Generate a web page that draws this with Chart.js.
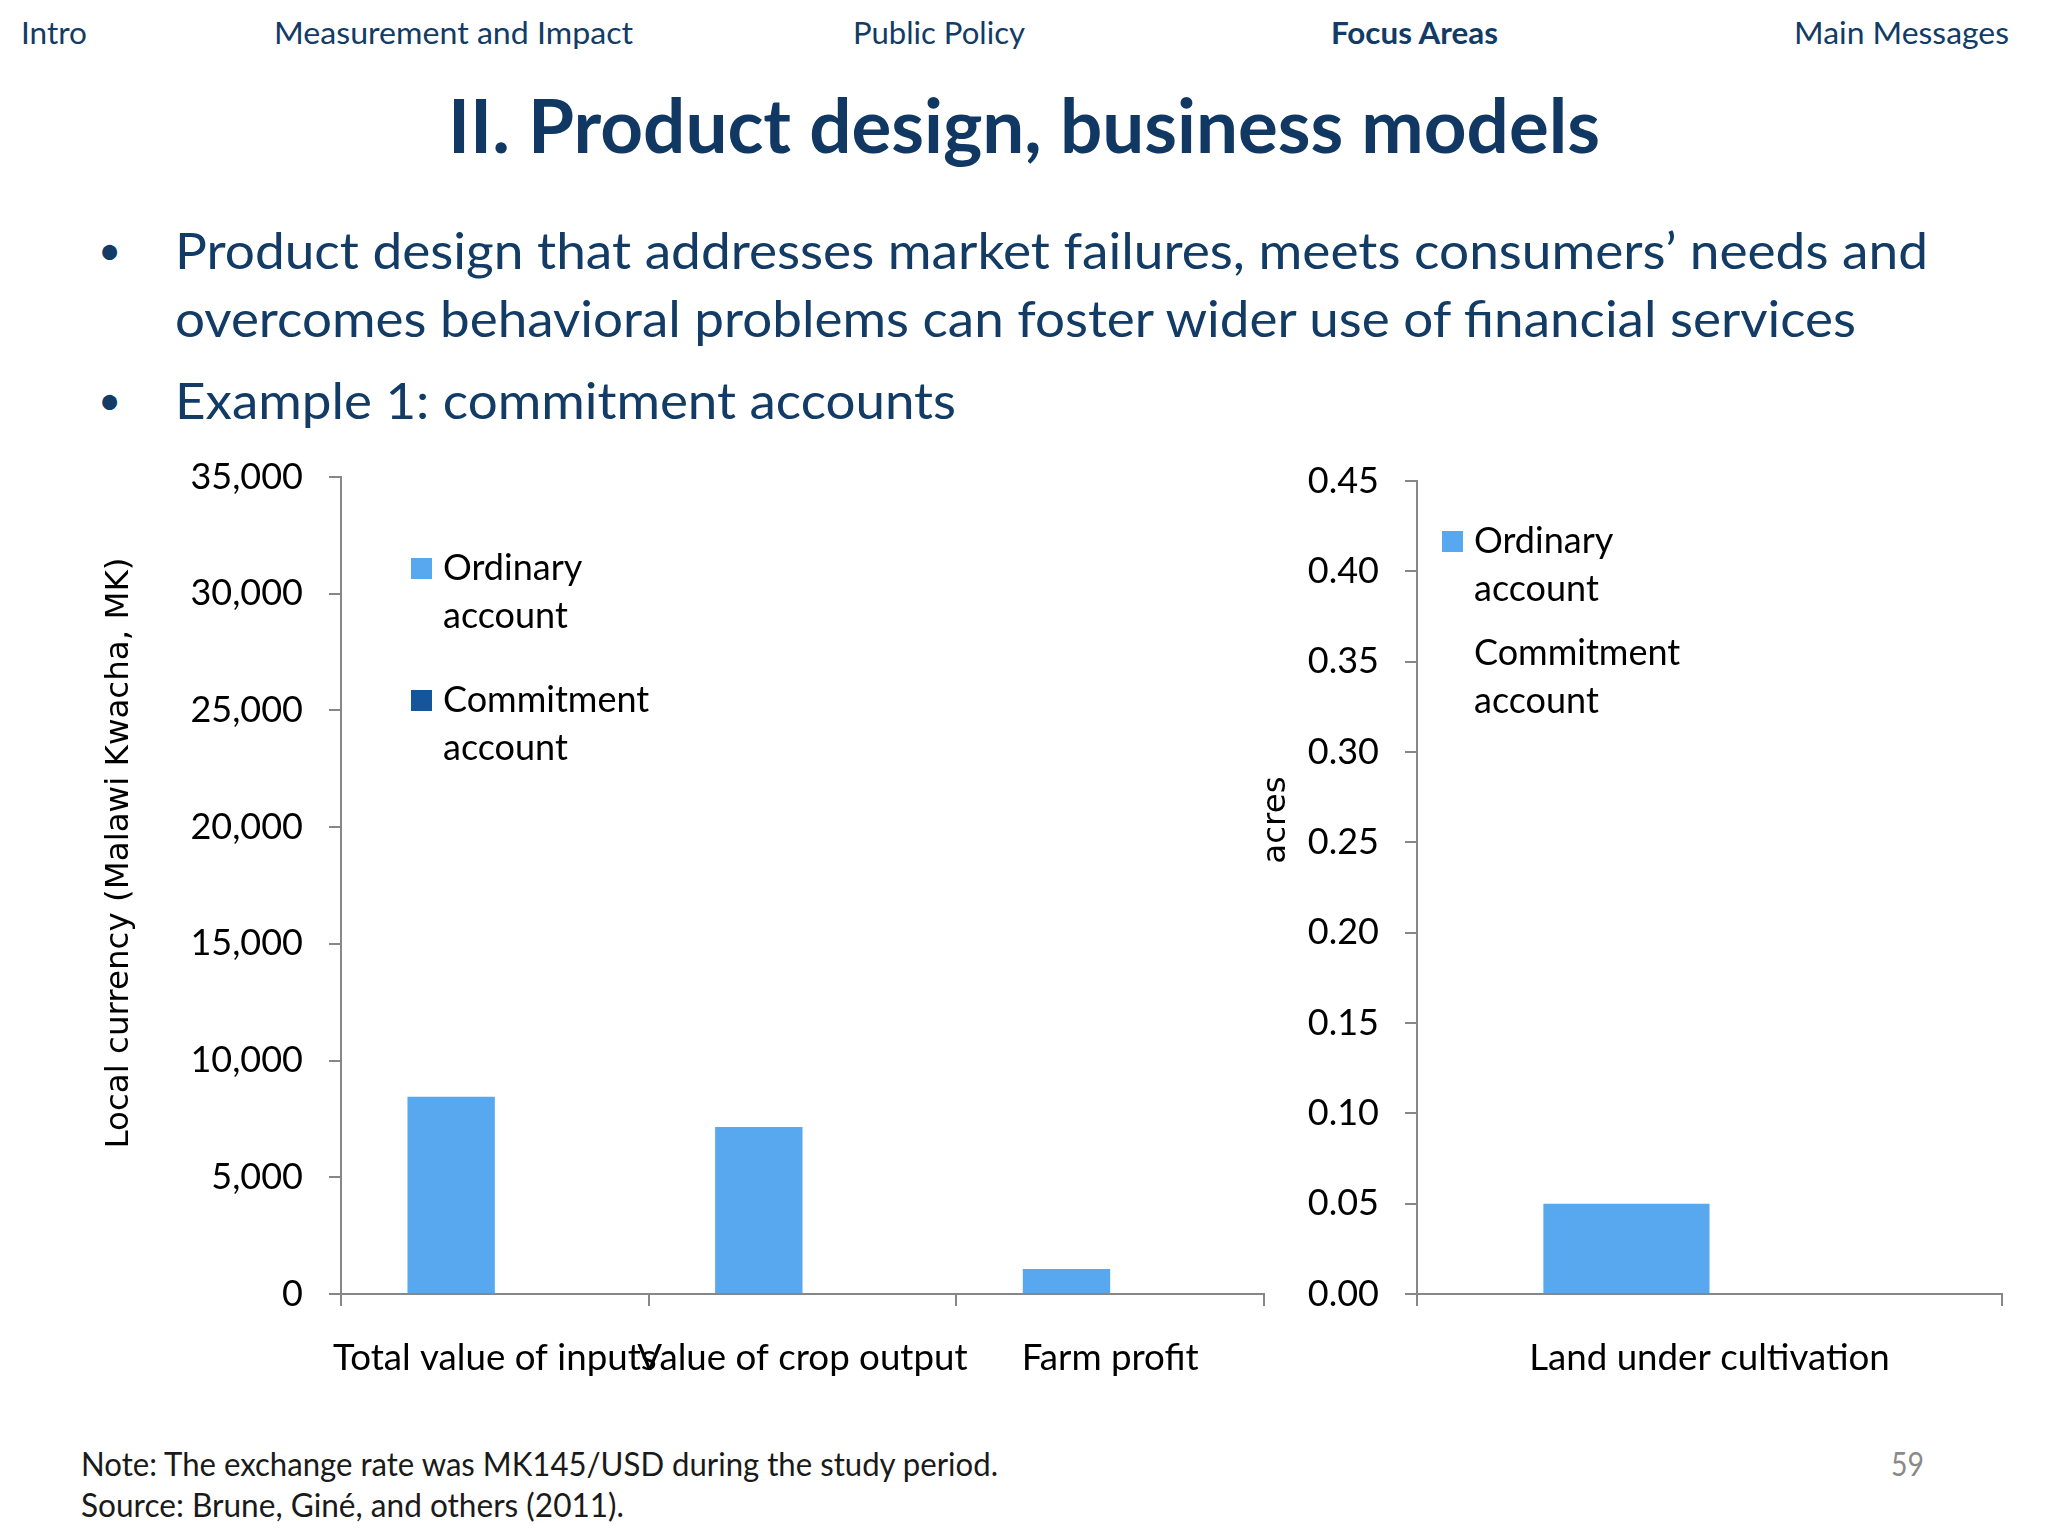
<!DOCTYPE html>
<html>
<head>
<meta charset="utf-8">
<title>II. Product design, business models</title>
<script src="https://cdn.jsdelivr.net/npm/chart.js@4.4.1/dist/chart.umd.min.js"></script>
<style>
    html, body { margin: 0; padding: 0; background: #ffffff; }
    body { width: 2048px; height: 1536px; position: relative; overflow: hidden; font-family: Lato, "Open Sans", sans-serif; }
    .t { position: absolute; white-space: nowrap; line-height: 1; transform-origin: 0 50%; }
    .nav { color: #123b66; font-size: 31px; }
    .title { color: #103863; font-size: 75px; font-weight: bold; }
    .bullet { color: #123b66; font-size: 50px; }
    .dot { color: #123b66; font-size: 40px; }
    .foot { color: #1a1a1a; font-size: 32px; }
    .page { color: #8a8a8a; font-size: 32px; }
    canvas { position: absolute; }
    #graficaDinero { left: 90px; top: 440px; }
    #graficaTierra { left: 1240px; top: 440px; }
</style>
</head>
<body>

<div class="t nav" data-x="21" data-cy="33" data-w="66">Intro</div>
<div class="t nav" data-x="274" data-cy="33" data-w="359">Measurement and Impact</div>
<div class="t nav" data-x="853" data-cy="33" data-w="172">Public Policy</div>
<div class="t nav" data-x="1331" data-cy="33" data-w="167" style="font-weight:bold">Focus Areas</div>
<div class="t nav" data-x="1794" data-cy="33" data-w="215">Main Messages</div>

<div class="t title" data-x="448" data-cy="127" data-w="1152">II. Product design, business models</div>

<div class="t dot" data-x="98" data-cy="251">•</div>
<div class="t bullet" data-x="175" data-cy="251" data-w="1753">Product design that addresses market failures, meets consumers’ needs and</div>
<div class="t bullet" data-x="175" data-cy="319" data-w="1681">overcomes behavioral problems can foster wider use of financial services</div>
<div class="t dot" data-x="98" data-cy="401">•</div>
<div class="t bullet" data-x="175" data-cy="401" data-w="781">Example 1: commitment accounts</div>

<canvas id="graficaDinero" width="1200" height="980"></canvas>
<canvas id="graficaTierra" width="808" height="980"></canvas>

<div class="t foot" data-x="81" data-cy="1465" data-w="917">Note: The exchange rate was MK145/USD during the study period.</div>
<div class="t foot" data-x="81" data-cy="1506" data-w="543">Source: Brune, Giné, and others (2011).</div>
<div class="t page" data-x="1891" data-cy="1465" data-w="33">59</div>

<script>
// ==============================
// DATOS
// ==============================
const dineroCategorias = ["Total value of inputs", "Value of crop output", "Farm profit"];
const dineroOrdinaria = [8450, 7150, 1070];
const dineroCompromiso = [null, null, null];
const dineroTicks = [0, 5000, 10000, 15000, 20000, 25000, 30000, 35000];
const dineroEtiquetas = ["0", "5,000", "10,000", "15,000", "20,000", "25,000", "30,000", "35,000"];

const tierraCategorias = ["Land under cultivation"];
const tierraOrdinaria = [0.05];
const tierraCompromiso = [null];
const tierraTicks = [0, 0.05, 0.10, 0.15, 0.20, 0.25, 0.30, 0.35, 0.40, 0.45];
const tierraEtiquetas = ["0.00", "0.05", "0.10", "0.15", "0.20", "0.25", "0.30", "0.35", "0.40", "0.45"];

const nombresSeries = [["Ordinary", "account"], ["Commitment", "account"]];

const azulClaro = "#58a8f0";
const azulOscuro = "#14559b";
const gris = "#878787";


// ==============================
// TEXTOS DE LA DIAPOSITIVA
// ==============================
document.querySelectorAll(".t").forEach(el => {
    const fs = parseFloat(getComputedStyle(el).fontSize);
    el.style.left = el.dataset.x + "px";
    el.style.top = (parseFloat(el.dataset.cy) - 0.53 * fs) + "px";
    if (el.dataset.w) {
        const natural = el.getBoundingClientRect().width;
        el.style.transform = "scaleX(" + (parseFloat(el.dataset.w) / natural) + ")";
    }
});


// ==============================
// LEYENDA Y TÍTULO DEL EJE
// ==============================
const textosGrafica = {
    id: "textosGrafica",
    afterDraw(chart, args, opts) {
        const ctx = chart.ctx;

        ctx.save();
        ctx.translate(opts.tituloX, opts.tituloY);
        ctx.rotate(-Math.PI / 2);
        ctx.font = '32.5px "DejaVu Sans"';
        ctx.fillStyle = "#000";
        ctx.textAlign = "center";
        ctx.textBaseline = "middle";
        ctx.fillText(opts.titulo, 0, 0);
        ctx.restore();

        ctx.save();
        chart.data.datasets.forEach((ds, i) => {
            const y0 = opts.leyendaY + i * opts.saltoEntrada;
            ctx.fillStyle = ds.backgroundColor;
            ctx.fillRect(opts.cuadroX, y0 - 10, 21, 21);
            ctx.fillStyle = "#000";
            ctx.font = "36px Lato";
            ctx.textAlign = "left";
            ctx.textBaseline = "middle";
            nombresSeries[i].forEach((linea, j) => {
                ctx.fillText(linea, opts.textoX, y0 + j * opts.saltoLinea);
            });
        });
        ctx.restore();
    }
};

function ejes(ticks, etiquetas, min, max, anchoY, arriba) {
    return {
        x: {
            grid: { display: true, drawOnChartArea: false, drawTicks: true, tickLength: 12, color: gris, lineWidth: 2, offset: true },
            border: { display: true, color: gris, width: 2 },
            ticks: { font: { family: "Lato", size: 36.7 }, color: "#000", padding: 30, maxRotation: 0, minRotation: 0, autoSkip: false },
            afterFit: s => { s.height = 126; }
        },
        y: {
            min: min,
            max: max,
            afterBuildTicks: s => { s.ticks = ticks.map(v => ({ value: v })); },
            grid: { display: true, drawOnChartArea: false, drawTicks: true, tickLength: 12, color: gris, lineWidth: 2 },
            border: { display: true, color: gris, width: 2 },
            ticks: { font: { family: "Lato", size: 36 }, color: "#000", padding: 26, callback: (v, i) => etiquetas[i] },
            afterFit: s => { s.width = anchoY; s.paddingTop = arriba; s.paddingBottom = 0; }
        }
    };
}


// ==============================
// GRÁFICA 1: MONEDA LOCAL
// ==============================
new Chart(document.getElementById("graficaDinero"), {
    type: "bar",
    data: {
        labels: dineroCategorias,
        datasets: [
            { label: "Ordinary account", data: dineroOrdinaria, backgroundColor: azulClaro, categoryPercentage: 0.568, barPercentage: 1 },
            { label: "Commitment account", data: dineroCompromiso, backgroundColor: azulOscuro, categoryPercentage: 0.568, barPercentage: 1 }
        ]
    },
    options: {
        responsive: false,
        animation: false,
        devicePixelRatio: 1,
        layout: { padding: { top: 37, right: 26, left: 0, bottom: 0 } },
        scales: ejes(dineroTicks, dineroEtiquetas, 0, 35000, 251, 37),
        plugins: {
            legend: { display: false },
            tooltip: { enabled: false },
            textosGrafica: {
                titulo: "Local currency (Malawi Kwacha, MK)",
                tituloX: 30, tituloY: 413,
                cuadroX: 321, textoX: 353,
                leyendaY: 128, saltoLinea: 48, saltoEntrada: 132
            }
        }
    },
    plugins: [textosGrafica]
});


// ==============================
// GRÁFICA 2: TIERRA CULTIVADA
// ==============================
new Chart(document.getElementById("graficaTierra"), {
    type: "bar",
    data: {
        labels: tierraCategorias,
        datasets: [
            { label: "Ordinary account", data: tierraOrdinaria, backgroundColor: azulClaro, categoryPercentage: 0.568, barPercentage: 1 },
            { label: "Commitment account", data: tierraCompromiso, backgroundColor: "rgba(0,0,0,0)", categoryPercentage: 0.568, barPercentage: 1 }
        ]
    },
    options: {
        responsive: false,
        animation: false,
        devicePixelRatio: 1,
        layout: { padding: { top: 41, right: 46, left: 0, bottom: 0 } },
        scales: ejes(tierraTicks, tierraEtiquetas, 0, 0.45, 177, 41),
        plugins: {
            legend: { display: false },
            tooltip: { enabled: false },
            textosGrafica: {
                titulo: "acres",
                tituloX: 37, tituloY: 380,
                cuadroX: 202, textoX: 234,
                leyendaY: 101, saltoLinea: 48, saltoEntrada: 112
            }
        }
    },
    plugins: [textosGrafica]
});
</script>
</body>
</html>
